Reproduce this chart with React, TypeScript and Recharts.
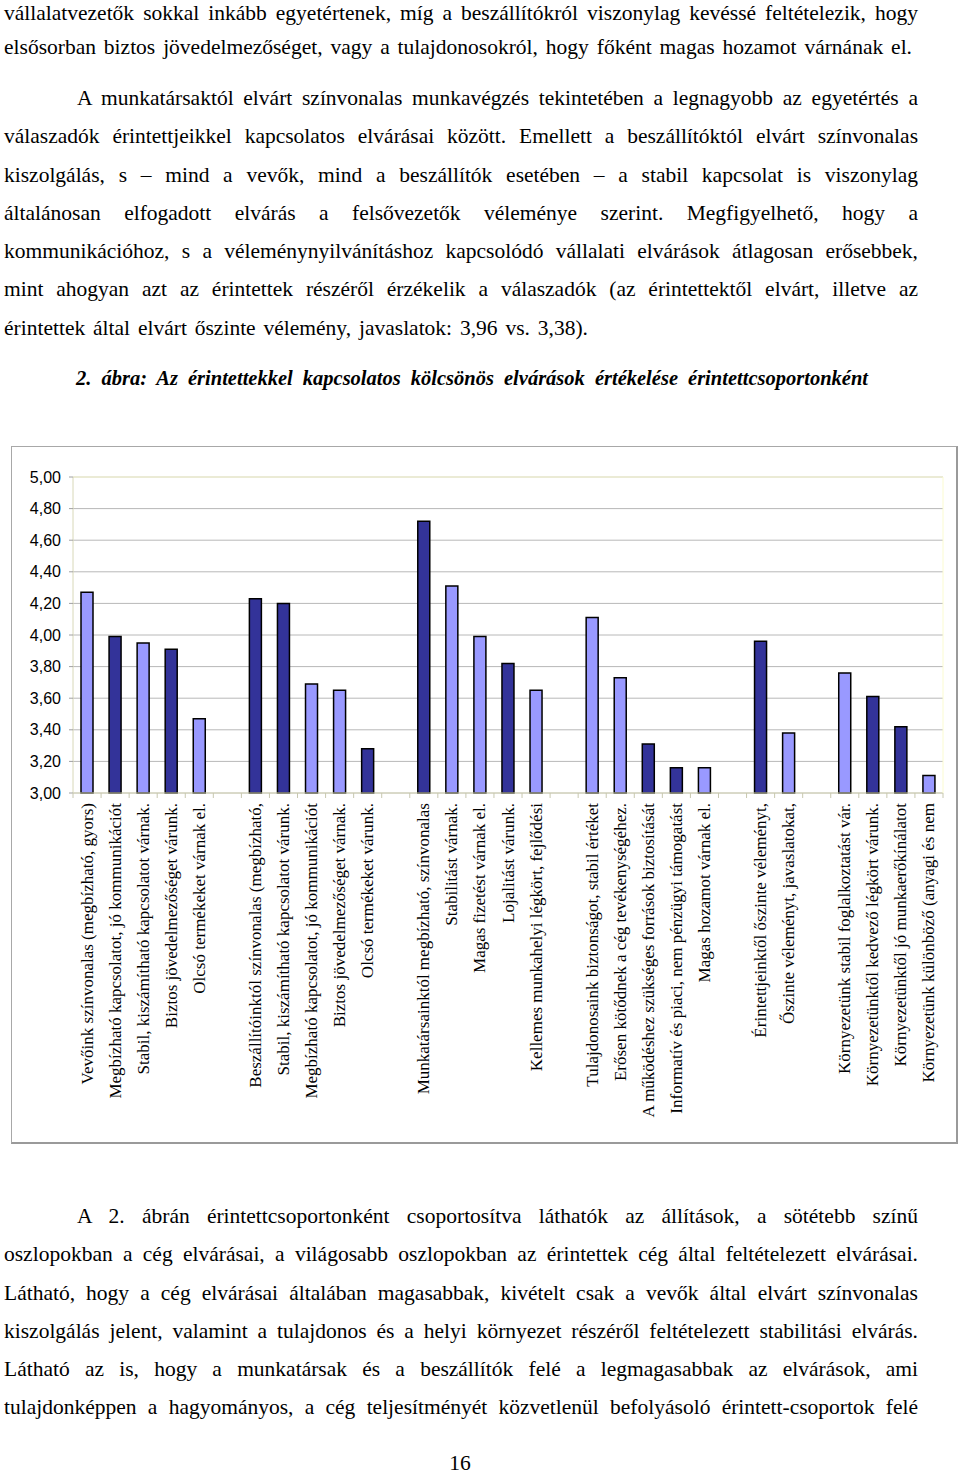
import React from "react";
import {
  BarChart,
  Bar,
  Cell,
  XAxis,
  YAxis,
  CartesianGrid,
  ReferenceLine,
} from "recharts";

// categories in chart order, "" = gap between stakeholder groups
const CATEGORIES: string[] = [
  "Vevőink színvonalas (megbízható, gyors)",
  "Megbízható kapcsolatot, jó kommunikációt",
  "Stabil, kiszámítható kapcsolatot várnak.",
  "Biztos jövedelmezőséget várunk.",
  "Olcsó termékeket várnak el.",
  "",
  "Beszállítóinktól színvonalas (megbízható,",
  "Stabil, kiszámítható kapcsolatot várunk.",
  "Megbízható kapcsolatot, jó kommunikációt",
  "Biztos jövedelmezőséget várnak.",
  "Olcsó termékeket várunk.",
  "",
  "Munkatársainktól megbízható, színvonalas",
  "Stabilitást várnak.",
  "Magas fizetést várnak el.",
  "Lojalitást várunk.",
  "Kellemes munkahelyi légkört, fejlődési",
  "",
  "Tulajdonosaink biztonságot, stabil értéket",
  "Erősen kötődnek a cég tevékenységéhez.",
  "A működéshez szükséges források biztosítását",
  "Informatív és piaci, nem pénzügyi támogatást",
  "Magas hozamot várnak el.",
  "",
  "Érintettjeinktől őszinte véleményt,",
  "Őszinte véleményt, javaslatokat,",
  "",
  "Környezetünk stabil foglalkoztatást vár.",
  "Környezetünktől kedvező légkört várunk.",
  "Környezetünktől jó munkaerőkínálatot",
  "Környezetünk különböző (anyagi és nem",
];

const VALUES: (number | null)[] = [
  4.27, 3.99, 3.95, 3.91, 3.47, null,
  4.23, 4.2, 3.69, 3.65, 3.28, null,
  4.72, 4.31, 3.99, 3.82, 3.65, null,
  4.11, 3.73, 3.31, 3.16, 3.16, null,
  3.96, 3.38, null,
  3.76, 3.61, 3.42, 3.11,
];

// "ceg" = the company's expectation (dark), "erintett" = stakeholder's (light)
const KINDS: string[] = [
  "erintett", "ceg", "erintett", "ceg", "erintett", "",
  "ceg", "ceg", "erintett", "erintett", "ceg", "",
  "ceg", "erintett", "erintett", "ceg", "erintett", "",
  "erintett", "erintett", "ceg", "ceg", "erintett", "",
  "ceg", "erintett", "",
  "erintett", "ceg", "ceg", "erintett",
];

const Y_TICKS = [3, 3.2, 3.4, 3.6, 3.8, 4, 4.2, 4.4, 4.6, 4.8, 5];

const PARA_TOP = [
  "vállalatvezetők sokkal inkább egyetértenek, míg a beszállítókról viszonylag kevéssé feltételezik, hogy",
  "elsősorban biztos jövedelmezőséget, vagy a tulajdonosokról, hogy főként magas hozamot várnának el.",
];

const PARA_MID = [
  "A munkatársaktól elvárt színvonalas munkavégzés tekintetében a legnagyobb az egyetértés a",
  "válaszadók érintettjeikkel kapcsolatos elvárásai között. Emellett a beszállítóktól elvárt színvonalas",
  "kiszolgálás, s – mind a vevők, mind a beszállítók esetében – a stabil kapcsolat is viszonylag",
  "általánosan elfogadott elvárás a felsővezetők véleménye szerint. Megfigyelhető, hogy a",
  "kommunikációhoz, s a véleménynyilvánításhoz kapcsolódó vállalati elvárások átlagosan erősebbek,",
  "mint ahogyan azt az érintettek részéről érzékelik a válaszadók (az érintettektől elvárt, illetve az",
  "érintettek által elvárt őszinte vélemény, javaslatok: 3,96 vs. 3,38).",
];

const CAPTION = "2. ábra: Az érintettekkel kapcsolatos kölcsönös elvárások értékelése érintettcsoportonként";

const PARA_BOTTOM = [
  "A 2. ábrán érintettcsoportonként csoportosítva láthatók az állítások, a sötétebb színű",
  "oszlopokban a cég elvárásai, a világosabb oszlopokban az érintettek cég által feltételezett elvárásai.",
  "Látható, hogy a cég elvárásai általában magasabbak, kivételt csak a vevők által elvárt színvonalas",
  "kiszolgálás jelent, valamint a tulajdonos és a helyi környezet részéről feltételezett stabilitási elvárás.",
  "Látható az is, hogy a munkatársak és a beszállítók felé a legmagasabbak az elvárások, ami",
  "tulajdonképpen a hagyományos, a cég teljesítményét közvetlenül befolyásoló érintett-csoportok felé",
];

const PAGE_NUMBER = "16";

const DARK = "#333399";
const LIGHT = "#9999ff";
const SERIF = "'Liberation Serif', 'Times New Roman', serif";
const SANS = "'Liberation Sans', Arial, sans-serif";

const CHART_TOP = 446;
const CHART_W = 960;
const CHART_H = 698;
const PLOT_LEFT = 73;
const PLOT_RIGHT = 943;
const PLOT_W = PLOT_RIGHT - PLOT_LEFT;

const LINE_GAP = 38.25;
const FONT = 21.5;

const data = CATEGORIES.map((name, i) => ({
  name,
  value: VALUES[i],
  kind: KINDS[i],
}));

function CategoryTick(props: any) {
  const { x, y, payload, index } = props;
  const step = PLOT_W / CATEGORIES.length;
  const last = index === CATEGORIES.length - 1;
  return (
    <g>
      <line x1={x - step / 2} x2={x - step / 2} y1={y} y2={y + 5} stroke="#c8c8b0" />
      {last && <line x1={x + step / 2} x2={x + step / 2} y1={y} y2={y + 5} stroke="#c8c8b0" />}
      <text
        x={x}
        y={y + 10}
        transform={`rotate(-90, ${x}, ${y + 10})`}
        textAnchor="end"
        dominantBaseline="central"
        fontFamily={SERIF}
        fontSize={17}
        fill="#000"
      >
        {payload.value}
      </text>
    </g>
  );
}

function Line({
  text,
  top,
  left = 4,
  right = 918,
  size = FONT,
  style,
}: {
  text: string;
  top: number;
  left?: number;
  right?: number;
  size?: number;
  style?: React.CSSProperties;
}) {
  return (
    <div
      style={{
        position: "absolute",
        top: top - 14,
        left,
        width: right - left,
        height: 28,
        lineHeight: "28px",
        fontFamily: SERIF,
        fontSize: size,
        color: "#000",
        textAlign: "justify",
        textAlignLast: "justify",
        ...style,
      }}
    >
      {text}
    </div>
  );
}

export default function App() {
  return (
    <div style={{ position: "relative", width: 960, height: 1475, background: "#fff", overflow: "hidden" }}>
      <style>{"body{margin:0}"}</style>

      <Line text={PARA_TOP[0]} top={13} />
      <Line text={PARA_TOP[1]} top={47} right={912} />

      {PARA_MID.map((t, i) => (
        <Line
          key={i}
          text={t}
          top={98 + i * LINE_GAP}
          left={i === 0 ? 77 : 4}
          right={i === PARA_MID.length - 1 ? 588 : 918}
        />
      ))}

      <Line
        text={CAPTION}
        top={378}
        left={76}
        right={868}
        size={20.5}
        style={{ fontWeight: "bold", fontStyle: "italic" }}
      />

      <div
        style={{
          position: "absolute",
          left: 11,
          top: CHART_TOP,
          width: 944,
          height: 695,
          borderTop: "1px solid #a8a8a8",
          borderLeft: "1px solid #a8a8a8",
          borderRight: "2px solid #9a9a9a",
          borderBottom: "2px solid #9a9a9a",
        }}
      />
      <div style={{ position: "absolute", left: 0, top: CHART_TOP }}>
        <BarChart
          width={CHART_W}
          height={CHART_H}
          data={data}
          margin={{ top: 31, right: 0, left: 0, bottom: 11 }}
          barCategoryGap={0}
        >
          <CartesianGrid vertical={false} stroke="#b8b8b8" />
          <XAxis
            dataKey="name"
            interval={0}
            height={CHART_H - 31 - 11 - 316}
            axisLine={{ stroke: "#d8d8b8" }}
            tickLine={false}
            tickSize={0}
            tickMargin={0}
            tick={<CategoryTick />}
          />
          <YAxis
            type="number"
            domain={[3, 5]}
            ticks={Y_TICKS}
            width={PLOT_LEFT}
            axisLine={{ stroke: "#d8d8b8" }}
            tickLine={{ stroke: "#a0a0a0" }}
            tickSize={4}
            tickMargin={8}
            tick={{ fontFamily: SANS, fontSize: 16, fill: "#000" }}
            tickFormatter={(v: number) => v.toFixed(2).replace(".", ",")}
          />
          <YAxis
            yAxisId="right"
            orientation="right"
            domain={[3, 5]}
            width={CHART_W - PLOT_RIGHT}
            tick={false}
            tickLine={false}
            axisLine={{ stroke: "#fbfbd0" }}
          />
          <ReferenceLine y={5} stroke="#fbfbd0" />
          <Bar dataKey="value" barSize={12} stroke="#000" strokeWidth={1.5} isAnimationActive={false}>
            {data.map((d, i) => (
              <Cell key={i} fill={d.kind === "ceg" ? DARK : LIGHT} />
            ))}
          </Bar>
        </BarChart>
      </div>

      {PARA_BOTTOM.map((t, i) => (
        <Line key={i} text={t} top={1216 + i * LINE_GAP} left={i === 0 ? 77 : 4} />
      ))}

      <div
        style={{
          position: "absolute",
          top: 1449,
          left: 0,
          width: 920,
          textAlign: "center",
          fontFamily: SERIF,
          fontSize: FONT,
          lineHeight: "28px",
        }}
      >
        {PAGE_NUMBER}
      </div>
    </div>
  );
}
